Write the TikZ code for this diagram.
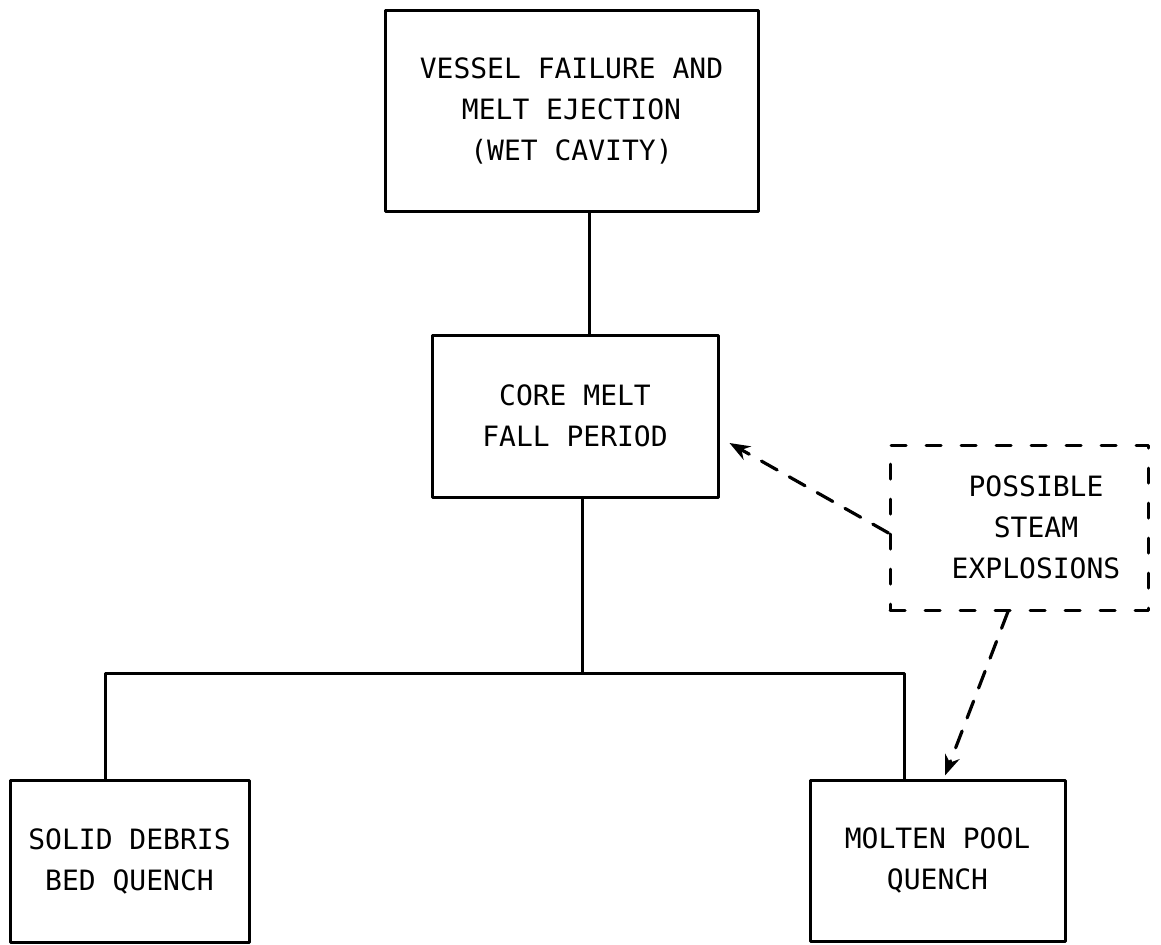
\documentclass[tikz,border=0pt]{standalone}
\usepackage{fontspec}
\setmonofont{DejaVu Sans Mono}
\usetikzlibrary{arrows.meta}

\begin{document}
\begin{tikzpicture}[
    x=0.5pt, y=-0.5pt,
    >=Stealth,
    font=\ttfamily\fontsize{14}{20.5}\selectfont,
    line join=round,
    line cap=round,
    stage/.style={
        draw,
        line width=1.5pt,
        rectangle,
        inner sep=0pt,
        align=center
    },
    maybe/.style={
        stage,
        dash pattern=on 7.5pt off 10pt
    },
    link/.style={line width=1.5pt},
    effect/.style={->, line width=1.6pt, dash pattern=on 9pt off 7pt}
]
\useasboundingbox (0,0) rectangle (1161,944);

% =========================
% Nodes
% =========================
\node[stage, minimum width=186.5pt, minimum height=100.5pt] (vessel) at (571.5,110.5)
    {VESSEL FAILURE AND\\MELT EJECTION\\(WET CAVITY)};

\node[stage, minimum width=143pt, minimum height=81pt] (core) at (575,416)
    {CORE MELT\\FALL PERIOD};

\node[maybe, minimum width=129pt, minimum height=82.5pt] (steam) at (1019,527.5)
    {\hspace*{17pt}POSSIBLE\\\hspace*{17pt}STEAM\\\hspace*{17pt}EXPLOSIONS};

\node[stage, minimum width=119.5pt, minimum height=81pt] (debris) at (129.5,861)
    {SOLID DEBRIS\\BED QUENCH};

\node[stage, minimum width=127.5pt, minimum height=80.5pt] (pool) at (937.5,860.5)
    {MOLTEN POOL\\QUENCH};

\coordinate (split) at (582,673);

% =========================
% Main chain
% =========================
\draw[link] ([xshift=8.75pt]vessel.south) -- ([xshift=8.75pt]vessel.south |- core.north);
\draw[link] ([xshift=3.5pt]core.south) -- (split);
\draw[link] ([xshift=-12.25pt]debris.north) |- (split) -| ([xshift=-16.75pt]pool.north);

% =========================
% Steam explosion effects
% =========================
\draw[effect] ([yshift=-2.75pt]steam.west) -- ([xshift=5pt,yshift=-13.5pt]core.east);
\draw[effect] ([xshift=-5.5pt]steam.south) -- ([xshift=3.75pt,yshift=1.5pt]pool.north);

\end{tikzpicture}
\end{document}
